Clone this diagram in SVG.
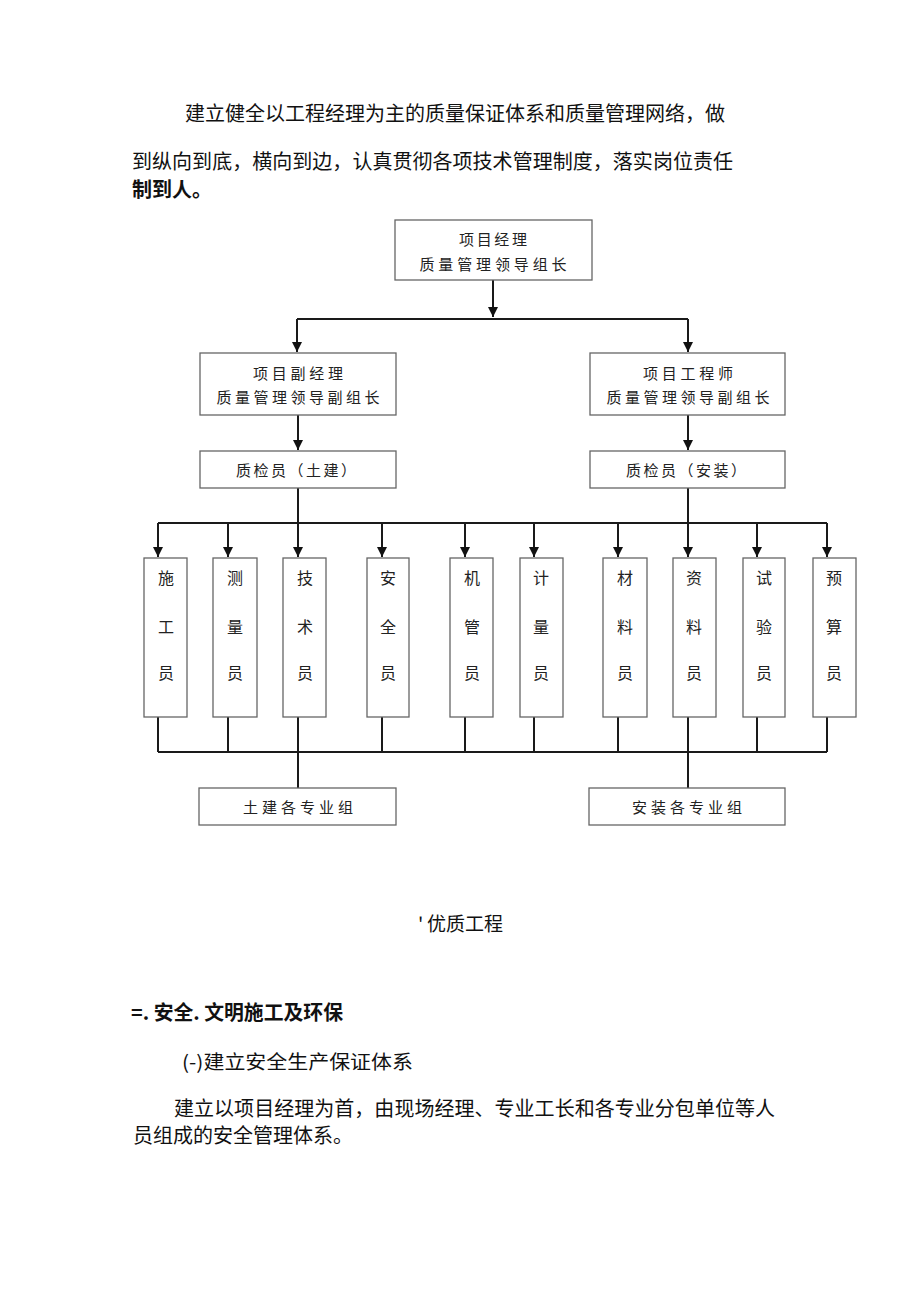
<svg xmlns="http://www.w3.org/2000/svg" width="920" height="1301" viewBox="0 0 920 1301">
<defs>
<marker id="arr" viewBox="0 0 10 10" refX="10" refY="5" markerWidth="10" markerHeight="10" markerUnits="userSpaceOnUse" orient="auto">
<path d="M0,0 L10,5 L0,10 z" fill="#111"/>
</marker>
<style>
.pg{font-family:"Noto Sans CJK SC","Noto Sans",sans-serif;font-size:20px;fill:#111}
.bx rect{fill:#fff;stroke:#666;stroke-width:1.3}
.bx text{font-family:"Noto Sans CJK SC","Noto Sans",sans-serif;font-size:15px;fill:#222;text-anchor:middle}
.v text{font-size:16px}
.ln{stroke:#1a1a1a;stroke-width:2;fill:none}
.ar{marker-end:url(#arr)}
</style>
</defs>
<rect width="920" height="1301" fill="#fff"/>
<text class="pg" x="185" y="121" textLength="540" lengthAdjust="spacing">建立健全以工程经理为主的质量保证体系和质量管理网络，做</text>
<text class="pg" x="132" y="169" textLength="601" lengthAdjust="spacing">到纵向到底，横向到边，认真贯彻各项技术管理制度，落实岗位责任</text>
<text class="pg" x="132" y="197" style="font-weight:bold">制到人。</text>

<g id="connectors">
<line class="ln ar" x1="493" y1="280" x2="493" y2="317"/>
<line class="ln" x1="297" y1="319" x2="688" y2="319"/>
<line class="ln ar" x1="297" y1="319" x2="297" y2="352"/>
<line class="ln ar" x1="688" y1="319" x2="688" y2="352"/>
<line class="ln ar" x1="298" y1="415" x2="298" y2="450"/>
<line class="ln ar" x1="688" y1="415" x2="688" y2="450"/>
<line class="ln" x1="298" y1="488" x2="298" y2="523"/>
<line class="ln" x1="688" y1="488" x2="688" y2="523"/>
<line class="ln" x1="158" y1="523" x2="827" y2="523"/>
<line class="ln ar" x1="158" y1="523" x2="158" y2="557"/>
<line class="ln ar" x1="228" y1="523" x2="228" y2="557"/>
<line class="ln ar" x1="298" y1="523" x2="298" y2="557"/>
<line class="ln ar" x1="382" y1="523" x2="382" y2="557"/>
<line class="ln ar" x1="465" y1="523" x2="465" y2="557"/>
<line class="ln ar" x1="534" y1="523" x2="534" y2="557"/>
<line class="ln ar" x1="618" y1="523" x2="618" y2="557"/>
<line class="ln ar" x1="688" y1="523" x2="688" y2="557"/>
<line class="ln ar" x1="757" y1="523" x2="757" y2="557"/>
<line class="ln ar" x1="827" y1="523" x2="827" y2="557"/>
<path class="ln" d="M158,717V752M228,717V752M298,717V788M382,717V752M465,717V752M534,717V752M618,717V752M688,717V788M757,717V752M827,717V752M158,752H827"/>
</g>

<g id="n-pm" class="bx"><rect x="395" y="220" width="197" height="60"/>
<text x="493" y="245" textLength="68" lengthAdjust="spacing">项目经理</text>
<text x="493" y="270" textLength="147" lengthAdjust="spacing">质量管理领导组长</text></g>

<g id="n-dpm" class="bx"><rect x="200" y="353" width="196" height="62"/>
<text x="298" y="379" textLength="90" lengthAdjust="spacing">项目副经理</text>
<text x="298" y="403" textLength="163" lengthAdjust="spacing">质量管理领导副组长</text></g>

<g id="n-eng" class="bx"><rect x="590" y="353" width="195" height="62"/>
<text x="688" y="379" textLength="90" lengthAdjust="spacing">项目工程师</text>
<text x="688" y="403" textLength="163" lengthAdjust="spacing">质量管理领导副组长</text></g>

<g id="n-qc1" class="bx"><rect x="200" y="451" width="196" height="37"/>
<text x="296" y="476" textLength="120" lengthAdjust="spacing">质检员（土建）</text></g>

<g id="n-qc2" class="bx"><rect x="590" y="451" width="195" height="37"/>
<text x="686" y="476" textLength="120" lengthAdjust="spacing">质检员（安装）</text></g>

<g id="n-1" class="bx v"><rect x="144" y="558" width="43" height="159"/><text x="166" y="584">施</text><text x="166" y="633">工</text><text x="166" y="679">员</text></g>
<g id="n-2" class="bx v"><rect x="213" y="558" width="44" height="159"/><text x="235" y="584">测</text><text x="235" y="633">量</text><text x="235" y="679">员</text></g>
<g id="n-3" class="bx v"><rect x="283" y="558" width="43" height="159"/><text x="305" y="584">技</text><text x="305" y="633">术</text><text x="305" y="679">员</text></g>
<g id="n-4" class="bx v"><rect x="367" y="558" width="42" height="159"/><text x="388" y="584">安</text><text x="388" y="633">全</text><text x="388" y="679">员</text></g>
<g id="n-5" class="bx v"><rect x="450" y="558" width="43" height="159"/><text x="472" y="584">机</text><text x="472" y="633">管</text><text x="472" y="679">员</text></g>
<g id="n-6" class="bx v"><rect x="520" y="558" width="43" height="159"/><text x="541" y="584">计</text><text x="541" y="633">量</text><text x="541" y="679">员</text></g>
<g id="n-7" class="bx v"><rect x="603" y="558" width="44" height="159"/><text x="625" y="584">材</text><text x="625" y="633">料</text><text x="625" y="679">员</text></g>
<g id="n-8" class="bx v"><rect x="673" y="558" width="43" height="159"/><text x="694" y="584">资</text><text x="694" y="633">料</text><text x="694" y="679">员</text></g>
<g id="n-9" class="bx v"><rect x="743" y="558" width="42" height="159"/><text x="764" y="584">试</text><text x="764" y="633">验</text><text x="764" y="679">员</text></g>
<g id="n-10" class="bx v"><rect x="813" y="558" width="43" height="159"/><text x="834" y="584">预</text><text x="834" y="633">算</text><text x="834" y="679">员</text></g>

<g id="n-g1" class="bx"><rect x="199" y="788" width="197" height="37"/>
<text x="298" y="813" textLength="110" lengthAdjust="spacing">土建各专业组</text></g>
<g id="n-g2" class="bx"><rect x="589" y="788" width="196" height="37"/>
<text x="687" y="813" textLength="110" lengthAdjust="spacing">安装各专业组</text></g>

<text class="pg" x="418" y="931" style="font-size:19px">'<tspan x="427">优质工程</tspan></text>
<text class="pg" x="131" y="1020" style="font-weight:bold" textLength="212" lengthAdjust="spacingAndGlyphs">=. 安全. 文明施工及环保</text>
<text class="pg" x="182" y="1069" style="font-size:19px" textLength="231" lengthAdjust="spacingAndGlyphs">(-)建立安全生产保证体系</text>
<text class="pg" x="174" y="1116" textLength="601" lengthAdjust="spacing">建立以项目经理为首，由现场经理、专业工长和各专业分包单位等人</text>
<text class="pg" x="133" y="1143">员组成的安全管理体系。</text>
</svg>
